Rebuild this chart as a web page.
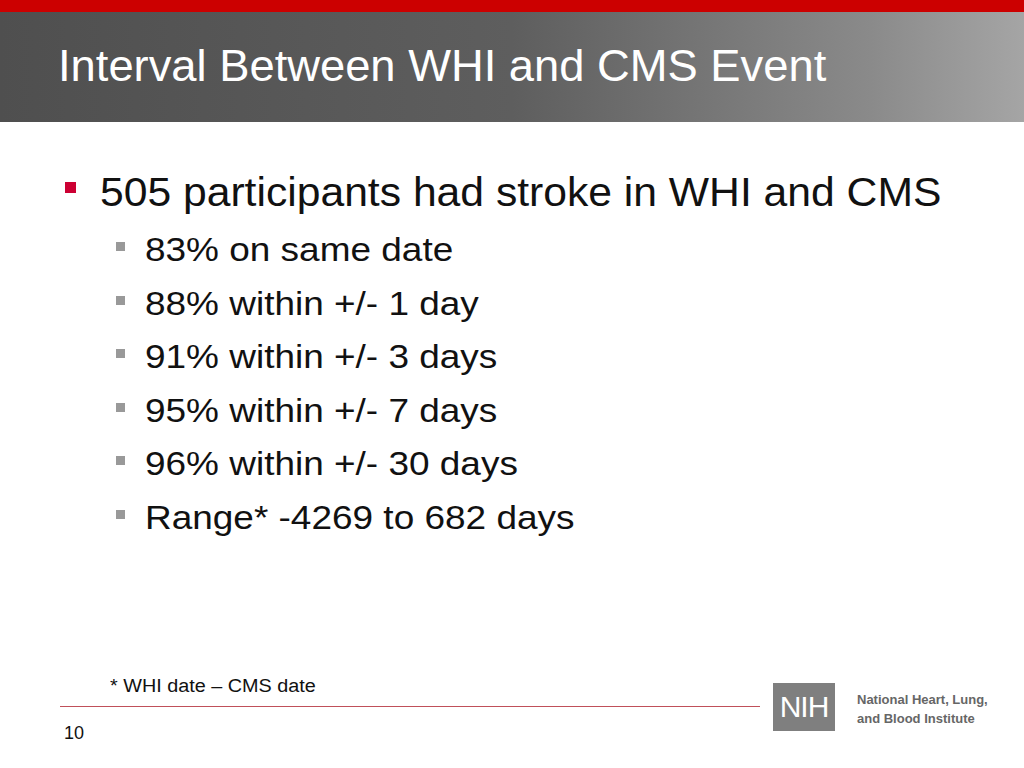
<!DOCTYPE html>
<html>
<head>
<meta charset="utf-8">
<script src="https://cdn.jsdelivr.net/npm/chart.js@4"></script>
<style>
  body { margin:0; width:1024px; height:768px; position:relative; overflow:hidden; background:#fff; font-family:"Liberation Sans", Arial, sans-serif; }
  #redbar { position:absolute; left:0; top:0; width:1024px; height:12px; background:#cc0000; }
  #header { position:absolute; left:0; top:12px; width:1024px; height:110px; background:linear-gradient(90deg,#4f4f4f 0%,#5e5e5e 50%,#8a8a8a 85%,#a5a5a5 100%); }
  #title { position:absolute; left:58px; top:29px; color:#fff; font-size:44px; transform:scaleX(1.03); transform-origin:left; white-space:nowrap; }
  .b1 { position:absolute; left:100px; font-size:40px; color:#111; transform:scaleX(1.066); transform-origin:left; white-space:nowrap; }
  .sq1 { position:absolute; left:65px; width:11px; height:11px; background:#cc0033; }
  .b2 { position:absolute; left:145px; font-size:33px; color:#111; transform:scaleX(1.12); transform-origin:left; white-space:nowrap; }
  .sq2 { position:absolute; left:116px; width:9px; height:9px; background:#999; }
  #foot { position:absolute; left:110px; top:676px; font-size:18px; color:#111; transform:scaleX(1.1); transform-origin:left; white-space:nowrap; }
  #rule { position:absolute; left:60px; top:706px; width:700px; height:1px; background:#c0505a; }
  #page { position:absolute; left:64px; top:723px; font-size:18px; color:#111; }
  #nihbox { position:absolute; left:773px; top:683px; width:62px; height:48px; background:#7f7f7f; color:#fff; font-size:30px; text-align:center; line-height:48px; letter-spacing:-1px; }
  #nihtext { position:absolute; left:857px; top:690px; font-size:13px; font-weight:bold; color:#666; line-height:19px; white-space:nowrap; }
</style>
</head>
<body>
<div id="redbar"></div>
<div id="header"><div id="title"></div></div>
<div id="list"></div>
<div id="foot"></div>
<div id="rule"></div>
<div id="page"></div>
<div id="nihbox">NIH</div>
<div id="nihtext">National Heart, Lung,<br>and Blood Institute</div>
<script>
const titleText = 'Interval Between WHI and CMS Event';
const mainPoint = '505 participants had stroke in WHI and CMS';
const subPoints = ['83% on same date', '88% within +/- 1 day', '91% within +/- 3 days',
                   '95% within +/- 7 days', '96% within +/- 30 days', 'Range* -4269 to 682 days'];
const footnote = '* WHI date \u2013 CMS date';
const pageNumber = '10';

document.getElementById('title').textContent = titleText;
document.getElementById('foot').textContent = footnote;
document.getElementById('page').textContent = pageNumber;

const list = document.getElementById('list');
let html = '<div class="sq1" style="top:182px"></div><div class="b1" style="top:170px">' + mainPoint + '</div>';
subPoints.forEach((t, i) => {
    const y = 250 + i * 53.6;
    html += '<div class="sq2" style="top:' + (y - 8) + 'px"></div>';
    html += '<div class="b2" style="top:' + (y - 19) + 'px">' + t + '</div>';
});
list.innerHTML = html;
</script>
</body>
</html>
